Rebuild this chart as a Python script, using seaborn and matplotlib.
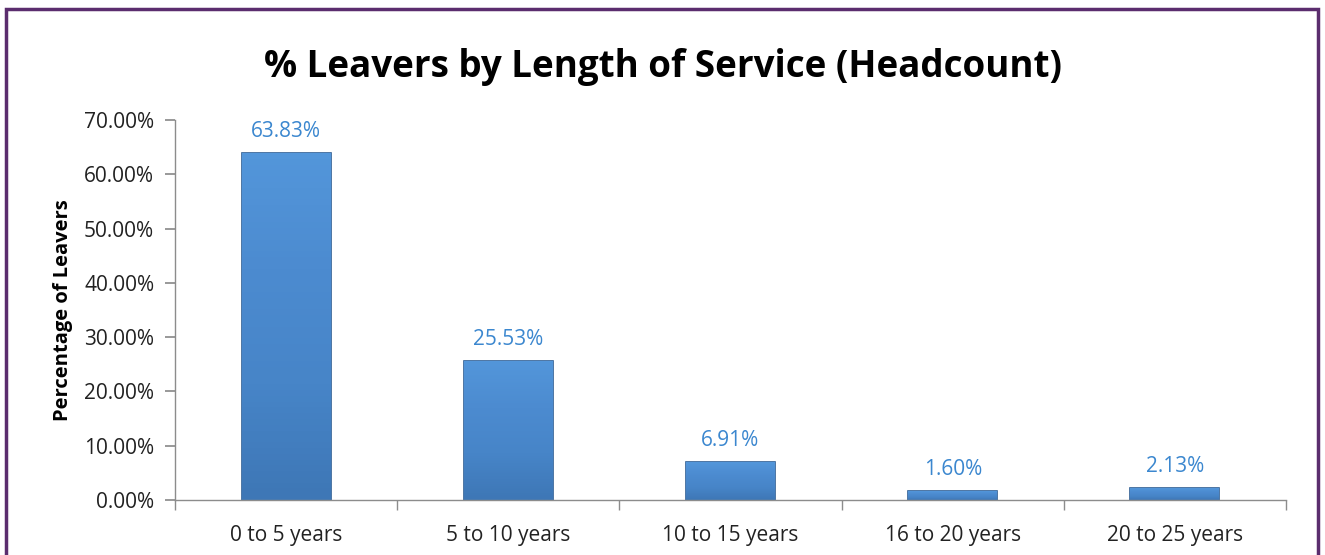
import matplotlib
matplotlib.use("Agg")
import matplotlib.pyplot as plt
import seaborn as sns
import pandas as pd
import numpy as np
from matplotlib.patches import Rectangle
from matplotlib.ticker import FuncFormatter, FixedLocator

categories = ["0 to 5 years", "5 to 10 years", "10 to 15 years", "16 to 20 years", "20 to 25 years"]
values = [63.83, 25.53, 6.91, 1.60, 2.13]
yticks = [0, 10, 20, 30, 40, 50, 60, 70]

sns.set_theme(style="white")
plt.rcParams['font.family'] = ['Open Sans', 'DejaVu Sans']

df = pd.DataFrame({"cat": categories, "val": values})

fig = plt.figure(figsize=(13.25, 5.55), dpi=100)
ax = fig.add_axes([175/1325, 55/555, (1286-175)/1325, 380/555])

sns.barplot(data=df, x="cat", y="val", ax=ax, color="#4a88cc", width=0.4,
            edgecolor="#2d5d94", linewidth=1.2, saturation=1)

# vertical gradient overlay for bevel look
cmap = matplotlib.colors.LinearSegmentedColormap.from_list(
    "g", ["#3e77b6", "#4785c8", "#4c8bd0", "#5396da"])
for p in ax.patches:
    x0, y0 = p.get_x(), p.get_y()
    w, h = p.get_width(), p.get_height()
    grad = np.linspace(0, 1, 60).reshape(-1, 1)
    im = ax.imshow(grad, extent=[x0, x0 + w, y0, y0 + h], aspect="auto",
                   origin="lower", cmap=cmap, zorder=p.get_zorder() + 0.1)
    im.set_clip_path(p)

for p, v in zip(ax.patches, values):
    ax.text(p.get_x() + p.get_width() / 2, v + 2.1, f"{v:.2f}%", ha="center",
            va="bottom", color="#3b87cf", fontsize=15)

ax.set_xlim(-0.5, len(categories) - 0.5)
ax.set_ylim(0, 70)
ax.set_yticks(yticks)
ax.yaxis.set_major_formatter(FuncFormatter(lambda v, _: f"{v:.2f}%"))
ax.set_xlabel("")
ax.set_ylabel("Percentage of Leavers", fontsize=14.5, fontweight="bold", color="#000000", labelpad=8)

for s in ["top", "right"]:
    ax.spines[s].set_visible(False)
for s in ["left", "bottom"]:
    ax.spines[s].set_color("#8c8c8c")
    ax.spines[s].set_linewidth(1.0)

ax.tick_params(axis="y", which="major", left=True, length=7, color="#8c8c8c",
               labelsize=15, labelcolor="#222222", direction="out", pad=8)
ax.tick_params(axis="x", which="major", bottom=False, length=0, labelsize=15,
               labelcolor="#222222", pad=18)
ax.xaxis.set_minor_locator(FixedLocator([i - 0.5 for i in range(len(categories) + 1)]))
ax.tick_params(axis="x", which="minor", bottom=True, length=7, color="#8c8c8c", direction="out")

fig.text(0.5, 0.879, "% Leavers by Length of Service (Headcount)", ha="center",
         va="center", fontsize=26.5, fontweight="bold", color="#000000")

fig.patches.append(Rectangle((6/1325, -0.05), (1318-6)/1325, (546/555) + 0.05,
                             transform=fig.transFigure, fill=False,
                             edgecolor="#5b2d6e", linewidth=2.5))

fig.savefig("out.png", dpi=100)
